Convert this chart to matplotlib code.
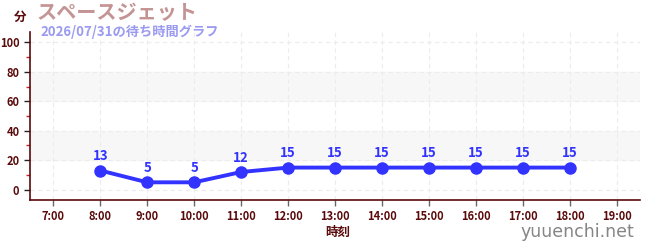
import matplotlib
matplotlib.use("Agg")
import matplotlib.pyplot as plt
from matplotlib.ticker import MultipleLocator

plt.rcParams['font.family'] = ['Noto Sans CJK JP', 'DejaVu Sans']

# data
hours = [8, 9, 10, 11, 12, 13, 14, 15, 16, 17, 18]
waits = [13, 5, 5, 12, 15, 15, 15, 15, 15, 15, 15]
tick_hours = list(range(7, 20))
tick_labels = [f"{h}:00" for h in tick_hours]

title = "スペースジェット"
subtitle = "2026/07/31の待ち時間グラフ"

axis_col = '#5a0a0a'
line_col = '#3333ff'

fig = plt.figure(figsize=(6.5, 2.5), dpi=100)
ax = fig.add_axes([0.046, 0.2, 0.939, 0.672])

ax.set_xlim(6.5, 19.5)
ax.set_ylim(-7, 107)

# shaded bands
for lo, hi in [(20, 40), (60, 80)]:
    ax.axhspan(lo, hi, color='#f7f7f7', zorder=0)

ax.set_xticks(tick_hours)
ax.set_xticklabels(tick_labels)
ax.yaxis.set_major_locator(MultipleLocator(20))
ax.yaxis.set_minor_locator(MultipleLocator(10))
ax.grid(True, which='major', color='#ececec', linestyle=(0, (4, 3)), linewidth=0.8)

ax.plot(hours, waits, color=line_col, linewidth=2.8, marker='o', markersize=8, zorder=3)
for h, w in zip(hours, waits):
    ax.text(h, w + 5, str(w), ha='center', va='bottom', color=line_col,
            fontsize=9.5, fontweight='bold', zorder=4)

for s in ['top', 'right']:
    ax.spines[s].set_visible(False)
ax.spines['left'].set_color(axis_col)
ax.spines['bottom'].set_color(axis_col)
ax.spines['left'].set_linewidth(1.2)
ax.spines['bottom'].set_linewidth(1.2)

ax.tick_params(axis='x', colors='#666666', labelcolor=axis_col, labelsize=8, length=4, width=1)
ax.tick_params(axis='y', which='major', colors='#222222', labelcolor=axis_col, labelsize=8, length=4, width=1)
ax.tick_params(axis='y', which='minor', colors='#cc2222', length=3, width=1)
for lab in ax.get_xticklabels() + ax.get_yticklabels():
    lab.set_fontweight('bold')

fig.text(20 / 650, 1 - 17 / 250, "分", ha='center', va='center', fontsize=9,
         fontweight='bold', color=axis_col)
fig.text(36 / 650, 1 - 13 / 250, title, ha='left', va='center', fontsize=14.5,
         fontweight='bold', color='#c49494')
fig.text(40 / 650, 1 - 32 / 250, subtitle, ha='left', va='center', fontsize=9.5,
         fontweight='bold', color='#9a9af0')
fig.text(338 / 650, 1 - 232 / 250, "時刻", ha='center', va='center', fontsize=9,
         fontweight='bold', color=axis_col)
fig.text(634 / 650, 1 - 232 / 250, "yuuenchi.net", ha='right', va='center', fontsize=12.5,
         color='#858585', family=['DejaVu Sans'])

fig.savefig("out.png", dpi=100)
